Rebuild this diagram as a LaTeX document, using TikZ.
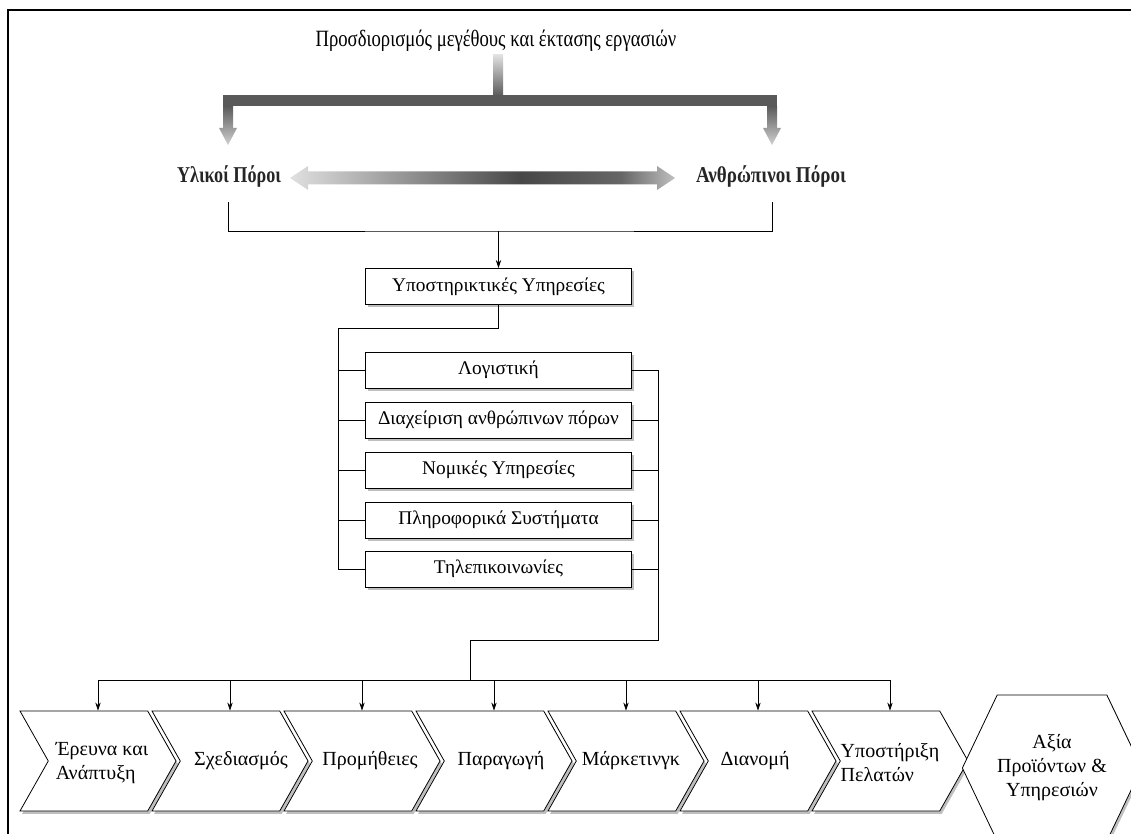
\documentclass[tikz,border=0pt]{standalone}
\usepackage{fontspec}
\usepackage{graphicx}
\setmainfont{Liberation Serif}
\usetikzlibrary{shapes.symbols,shadows,arrows.meta,calc}
\pgfdeclarehorizontalshading{dblarrow}{100bp}{color(0bp)=(black!12); color(25bp)=(black!12); color(55bp)=(black!72); color(68bp)=(black!60); color(75bp)=(black!25); color(100bp)=(black!25)}
\newcommand\condtxt[2]{\scalebox{#1}[1]{#2}}
\begin{document}
\begin{tikzpicture}[x=0.75pt,y=-0.75pt,
  shd/.style={drop shadow={shadow xshift=1.5pt, shadow yshift=-2.2pt, fill=gray!50, opacity=1}},
  sbox/.style={draw, fill=white, line width=0.6pt, minimum width=199.5pt, minimum height=27pt, inner sep=0pt, font=\fontsize{14.5}{16}\selectfont, shd},
  chev/.style={signal, signal from=west, signal to=east, signal pointer angle=121, draw, fill=white, line width=0.6pt, minimum width=117pt, minimum height=75pt, inner sep=0pt, shd},
  ctext/.style={align=left, inner sep=0pt, font=\fontsize{15}{18}\selectfont},
  hexa/.style={signal, signal to=east and west, signal pointer angle=129, draw, fill=white, line width=0.6pt, minimum width=104pt, minimum height=109.5pt, inner sep=0pt, align=center, font=\fontsize{15}{18}\selectfont, shd},
  lbl/.style={font=\bfseries\fontsize{17}{19}\selectfont, inner sep=1pt, text=black!85},
  conn/.style={line width=0.6pt},
  arr/.style={line width=0.6pt, -{Stealth[length=6pt,width=4pt]}}]
\useasboundingbox (0,0) rectangle (1131,834);
% frame
\draw[line width=1.6pt] (8,834) -- (8,10) -- (1131,10);
% title
\node[font=\fontsize{17.5}{19}\selectfont, text=black] (t) at (496,41) {\condtxt{0.80}{Προσδιορισμός μεγέθους και έκτασης εργασιών}};
% thick bracket
\shade[top color=black!12, bottom color=black!65] (493,55) rectangle (503,96);
\fill[black!65] (223,95) rectangle (777,106);
\shade[top color=black!65, bottom color=black!18] (223,106) -- (233,106) -- (233,128) -- (237,128) -- (228,145) -- (219,128) -- (223,128) -- cycle;
\shade[top color=black!65, bottom color=black!18] (767,106) -- (777,106) -- (777,128) -- (781,128) -- (772,145) -- (763,128) -- (767,128) -- cycle;
% labels
\node[lbl] (yl) at (229,176) {\condtxt{0.80}{Υλικοί Πόροι}};
\node[lbl] (an) at (771,176) {\condtxt{0.84}{Ανθρώπινοι Πόροι}};
% double arrow
\shade[shading=dblarrow] (290,178) -- (308,166) -- (308,171.5) -- (657,171.5) -- (657,166) -- (675,178) -- (657,190) -- (657,184.5) -- (308,184.5) -- (308,190) -- cycle;
% support services
\node[sbox] (sup) at (498.5,286.5) {Υποστηρικτικές Υπηρεσίες};
\coordinate (yb) at (228,202);
\coordinate (ab) at (772,202);
\coordinate (jn) at (498.5,231);
\draw[conn] (yb) |- (jn) -| (ab);
\draw[arr] (jn) -- (sup.north);
% service boxes
\node[sbox] (b1) at (498.5,370) {Λογιστική};
\node[sbox] (b2) at (498.5,420) {Διαχείριση ανθρώπινων πόρων};
\node[sbox] (b3) at (498.5,470) {Νομικές Υπηρεσίες};
\node[sbox] (b4) at (498.5,520) {Πληροφορικά Συστήματα};
\node[sbox] (b5) at (498.5,569) {Τηλεπικοινωνίες};
\coordinate (lb) at (338,328);
\draw[conn] (sup.south) |- (lb) -- (lb |- b5.west) -- (b5.west);
\foreach \b in {b1,b2,b3,b4} \draw[conn] (lb |- \b.west) -- (\b.west);
\coordinate (r1) at (658,640);
\coordinate (r2) at (470,640);
\coordinate (busy) at (0,680);
\draw[conn] (b1.east) -| (r1) -- (r2) -- (r2 |- busy);
\foreach \b in {b2,b3,b4,b5} \draw[conn] (\b.east) -- (\b.east -| r1);
% value chain
\node[chev] (c1) at (98,761) {};
\node[chev] (c2) at (230,761) {};
\node[chev] (c3) at (362,761) {};
\node[chev] (c4) at (494,761) {};
\node[chev] (c5) at (626,761) {};
\node[chev] (c6) at (758,761) {};
\node[chev] (c7) at (890,761) {};
\node[ctext] (t1) at (102,763) {Έρευνα και\\Ανάπτυξη};
\node[ctext] (t2) at (241,761) {Σχεδιασμός};
\node[ctext] (t3) at (370,761) {Προμήθειες};
\node[ctext] (t4) at (501,761) {Παραγωγή};
\node[ctext] (t5) at (631,761) {Μάρκετινγκ};
\node[ctext] (t6) at (755,761) {Διανομή};
\node[ctext] (t7) at (890,763) {Υποστήριξη\\Πελατών};
\node[hexa] (hx) at (1052,768) {Αξία\\Προϊόντων \&\\Υπηρεσιών};
\draw[conn] (c1.north |- busy) -- (c7.north |- busy);
\foreach \c in {c1,c2,c3,c4,c5,c6,c7} \draw[arr] (\c.north |- busy) -- (\c.north);
\end{tikzpicture}
\end{document}
